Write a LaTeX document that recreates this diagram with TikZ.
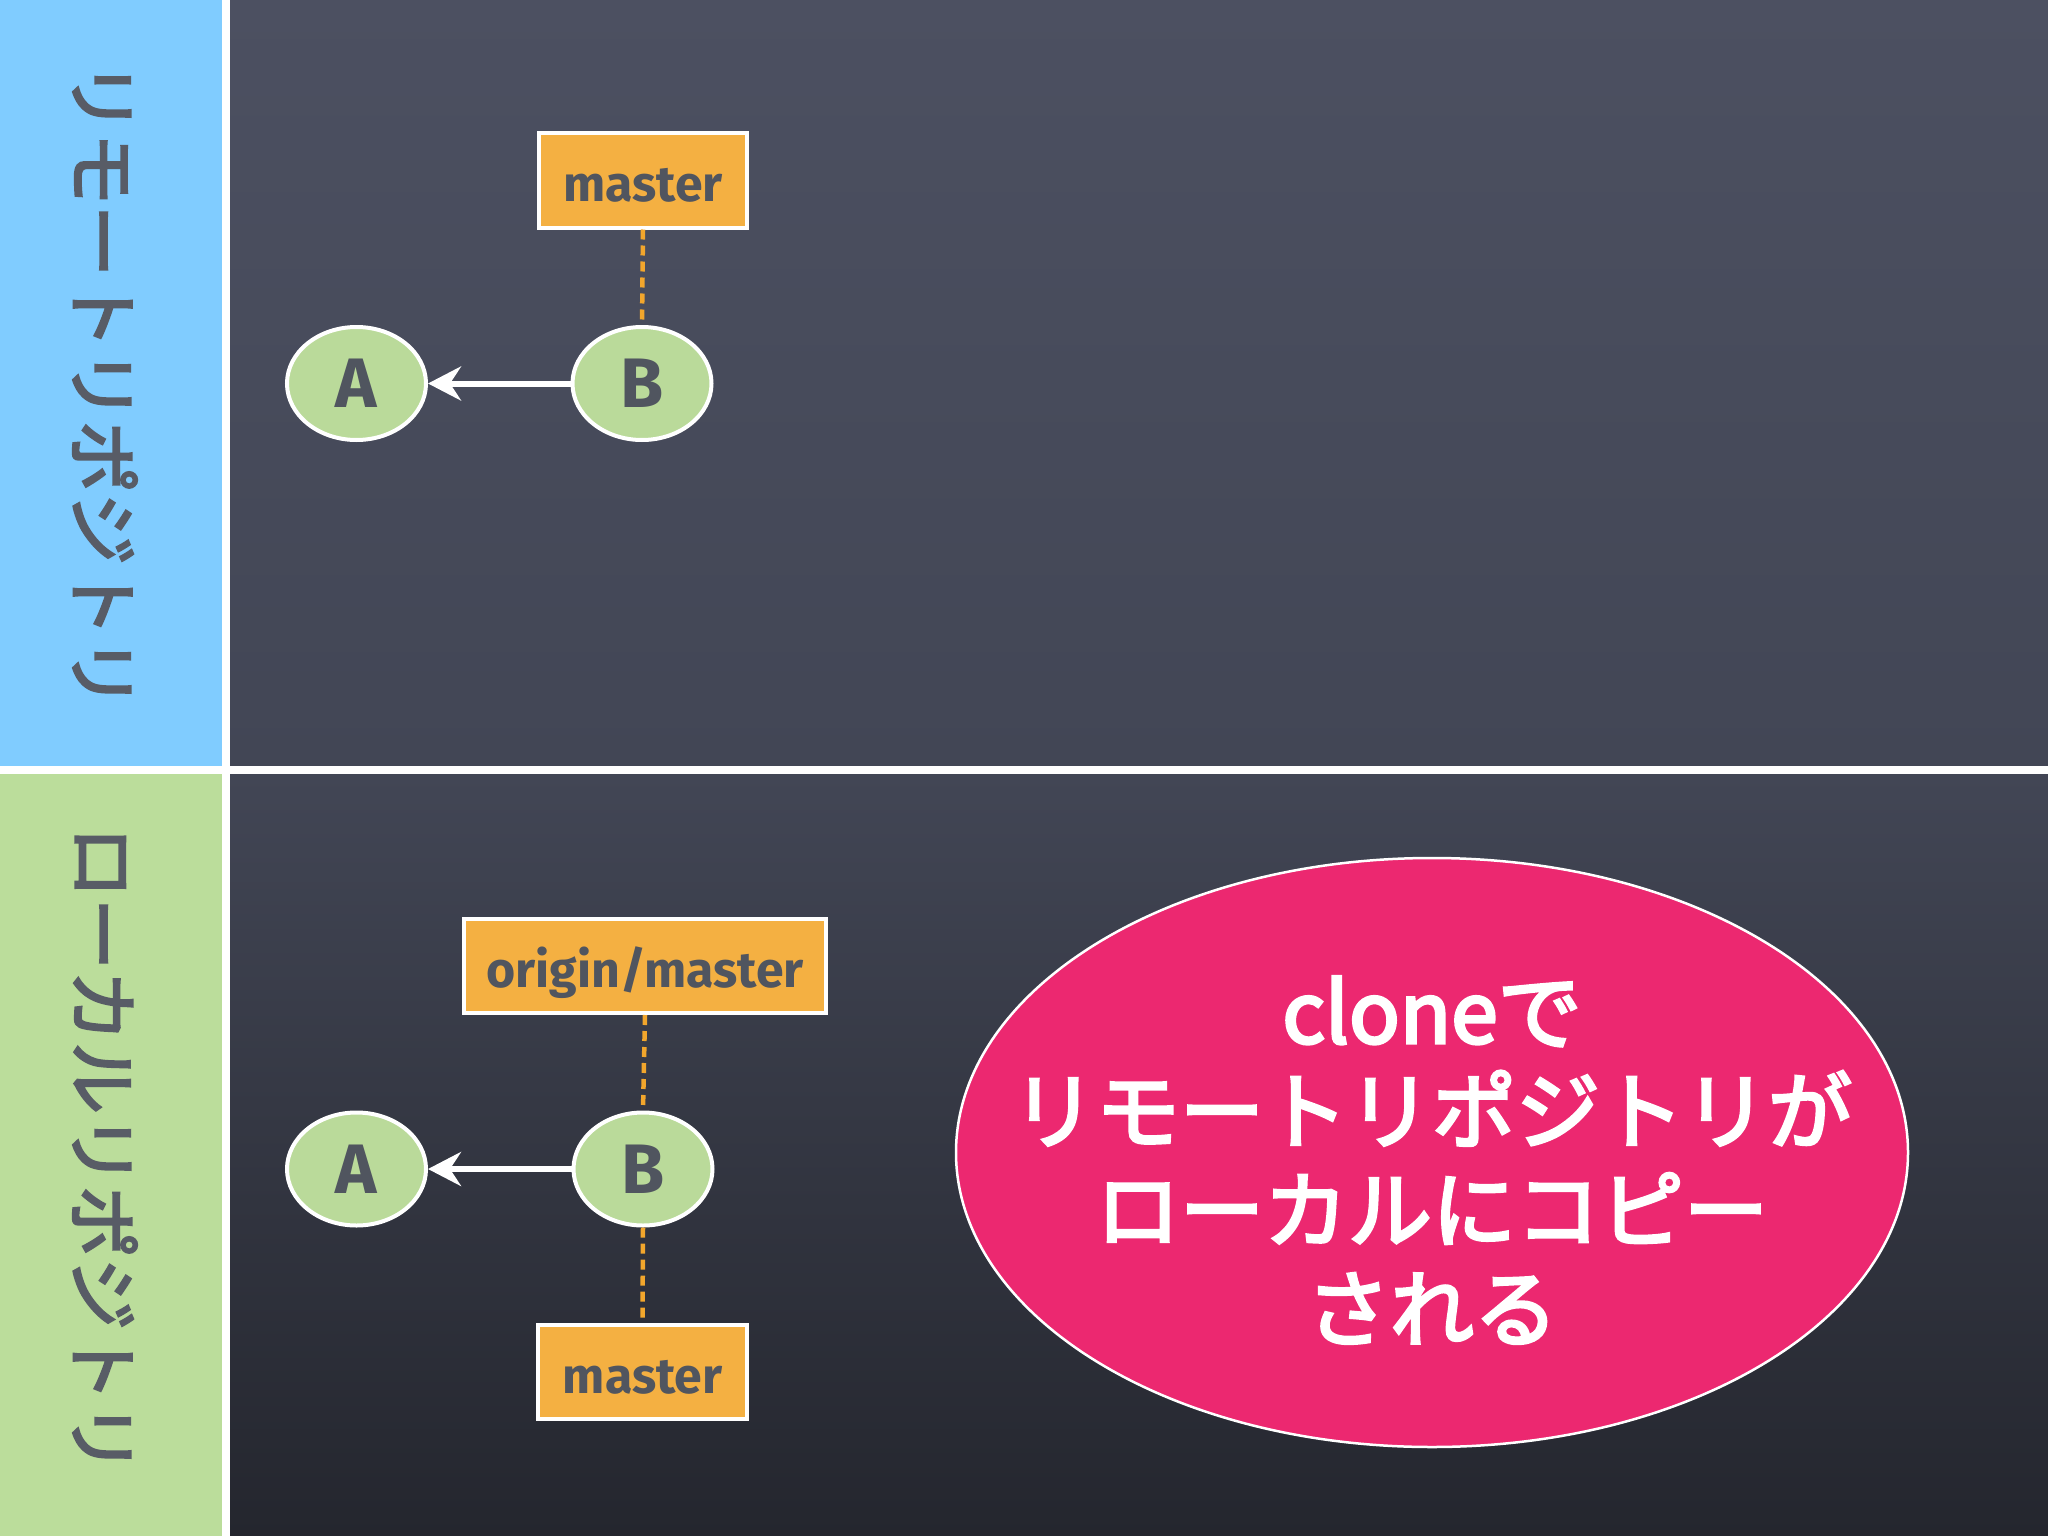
\documentclass[tikz,border=0pt]{standalone}
\usepackage{fontspec}
\newfontfamily\cjkmid{Noto Sans CJK JP}[FakeBold=3]
\newfontfamily\cjkbub{Noto Sans CJK JP}[FakeBold=3.5]
\newfontfamily\labelfont{Fira Sans}
\usetikzlibrary{shapes.geometric,arrows.meta}
\definecolor{bluepanel}{RGB}{128,204,255}
\definecolor{greenpanel}{RGB}{187,221,155}
\definecolor{boardtop}{RGB}{76,80,97}
\definecolor{boardmid}{RGB}{66,70,85}
\definecolor{boardlow}{RGB}{66,70,85}
\definecolor{boardbot}{RGB}{36,38,46}
\definecolor{boxfill}{RGB}{244,176,66}
\definecolor{nodefill}{RGB}{186,218,154}
\definecolor{inkgray}{RGB}{80,85,95}
\definecolor{vgray}{RGB}{88,92,102}
\definecolor{pinkfill}{RGB}{236,40,112}
\definecolor{dashorange}{RGB}{242,166,44}
\tikzset{
  vtext/.style={rotate=-90, text=vgray, font=\cjkmid\fontsize{72}{80}\selectfont, inner sep=0pt},
  branchbox/.style={draw=white, line width=4pt, fill=boxfill, text=inkgray,
    font=\labelfont\bfseries\fontsize{50}{56}\selectfont, inner sep=0pt,
    text height=42pt, text depth=0pt, minimum height=94pt},
  commit/.style={ellipse, draw=white, line width=4pt, fill=nodefill, text=inkgray,
    font=\labelfont\bfseries\fontsize{70}{74}\selectfont, inner sep=0pt,
    minimum width=139pt, minimum height=113pt},
  parentarrow/.style={draw=white, line width=6pt,
    -{Stealth[length=33pt, width=34pt, inset=11pt]}},
  reflink/.style={draw=dashorange, line width=4.5pt, dash pattern=on 10pt off 6pt},
  bubble/.style={ellipse, draw=white, line width=2.5pt, fill=pinkfill,
    minimum width=952pt, minimum height=589pt, inner sep=0pt},
  bubbletext/.style={text=white, align=center, inner sep=0pt,
    font=\cjkbub\fontsize{84}{99}\selectfont}
}
\begin{document}
\begin{tikzpicture}[x=1pt,y=-1pt]
\useasboundingbox (0,0) rectangle (2048,1536);
% chalkboard panels
\shade[top color=boardtop, bottom color=boardmid] (230,0) rectangle (2048,766);
\shade[top color=boardlow, bottom color=boardbot] (230,774) rectangle (2048,1536);
% side panels
\fill[bluepanel] (0,0) rectangle (222,766);
\fill[greenpanel] (0,774) rectangle (222,1536);
% white separators
\fill[white] (222,0) rectangle (230,1536);
\fill[white] (0,766) rectangle (2048,774);
% vertical labels
\node[vtext] (remotelabel) at (105,385) {リモートリポジトリ};
\node[vtext] (locallabel) at (105,1150) {ローカルリポジトリ};
% remote repository
\node[branchbox, minimum width=208pt] (rmaster) at (643,180.5) {master};
\node[commit] (rA) at (356.5,383.5) {A};
\node[commit] (rB) at (642,383.5) {B};
\draw[parentarrow] (rB) -- (rA);
\draw[reflink] (rmaster.south) -- (rB.north);
% local repository
\node[branchbox, minimum width=362pt] (lorigin) at (645,966) {origin/master};
\node[commit] (lA) at (356.5,1169) {A};
\node[commit] (lB) at (643,1169) {B};
\node[branchbox, minimum width=209pt] (lmaster) at (642.5,1372) {master};
\draw[parentarrow] (lB) -- (lA);
\draw[reflink] (lorigin.south) -- (lB.north);
\draw[reflink] (lB.south) -- (lmaster.north);
% message bubble
\node[bubble] (clonebubble) at (1432,1152.5) {};
\node[bubbletext] (clonetext) at (1432,1160) {cloneで\\リモートリポジトリが\\ローカルにコピー\\される};
\end{tikzpicture}
\end{document}
